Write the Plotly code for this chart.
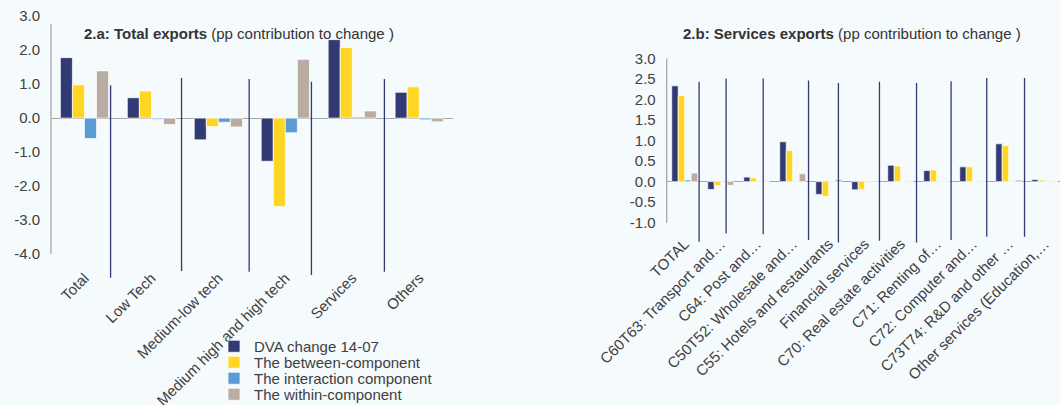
import plotly.graph_objects as go

# ---------------- data ----------------
series_names = ["DVA change 14-07", "The between-component",
                "The interaction component", "The within-component"]
series_colors = ["#323A73", "#FFD624", "#5B9BD5", "#B9ACA2"]

cat_a = ["Total", "Low Tech", "Medium-low tech", "Medium high and high tech",
         "Services", "Others"]
dva_a = [1.78, 0.60, -0.64, -1.27, 2.31, 0.76]
between_a = [0.98, 0.80, -0.25, -2.60, 2.08, 0.92]
interaction_a = [-0.60, -0.03, -0.12, -0.43, 0.03, -0.05]
within_a = [1.39, -0.19, -0.26, 1.73, 0.21, -0.11]

ytick_a_vals = [-4, -3, -2, -1, 0, 1, 2, 3]
ytick_a_text = ["-4.0", "-3.0", "-2.0", "-1.0", "0.0", "1.0", "2.0", "3.0"]

# vertical separator lines of panel a (category units / value units)
sep_a_x = [0.39, 1.45, 2.46, 3.39, 4.48]
sep_a_top = [0.97, 1.18, 1.15, 1.07, 1.15]
sep_a_bottom = [-4.70, -4.50, -4.52, -4.62, -4.52]

cat_b = ["TOTAL", "C60T63: Transport and…", "C64: Post and…",
         "C50T52: Wholesale and…", "C55: Hotels and restaurants",
         "Financial services", "C70: Real estate activities",
         "C71: Renting of…", "C72: Computer and…",
         "C73T74: R&D and other …", "Other services (Education,…"]
dva_b = [2.33, -0.19, 0.11, 0.97, -0.31, -0.20, 0.40, 0.27, 0.36, 0.92, 0.05]
between_b = [2.09, -0.10, 0.09, 0.76, -0.36, -0.19, 0.38, 0.28, 0.36, 0.88, 0.04]
interaction_b = [0.04, 0.00, 0.00, 0.00, 0.00, 0.01, 0.00, 0.00, 0.00, 0.00, 0.00]
within_b = [0.21, -0.09, 0.00, 0.19, 0.05, -0.01, 0.00, 0.00, 0.00, 0.04, 0.00]

ytick_b_vals = [-1, -0.5, 0, 0.5, 1, 1.5, 2, 2.5, 3]
ytick_b_text = ["-1.0", "-0.5", "0.0", "0.5", "1.0", "1.5", "2.0", "2.5", "3.0"]

sep_b_x = [0.40, 1.15, 2.18, 3.44, 4.27, 5.41, 6.44, 7.40, 8.39, 9.44]
sep_b_top = [2.43, 2.51, 2.51, 2.46, 2.40, 2.43, 2.40, 2.44, 2.52, 2.52]
sep_b_bottom = [-1.46, -1.26, -1.28, -1.42, -1.48, -1.44, -1.48, -1.42, -1.34, -1.34]

# ---------------- figure ----------------
W, H = 1060, 405
FONT = "Liberation Sans, Arial, sans-serif"
TXT = "#404040"
BG = "#F5FAFD"
AX = "#A6A6A6"

fig = go.Figure()

vals_a = [dva_a, between_a, interaction_a, within_a]
vals_b = [dva_b, between_b, interaction_b, within_b]
legend_ids = ["legend", "legend2", "legend3", "legend4"]

for i, name in enumerate(series_names):
    fig.add_trace(go.Bar(
        x=list(range(len(cat_a))), y=vals_a[i], name=name,
        marker=dict(color=series_colors[i], line=dict(color="#FFFFFF", width=0.7)),
        xaxis="x", yaxis="y", legend=legend_ids[i], offsetgroup=str(i),
        hoverinfo="skip"))
for i, name in enumerate(series_names):
    fig.add_trace(go.Bar(
        x=list(range(len(cat_b))), y=vals_b[i], name=name, showlegend=False,
        marker=dict(color=series_colors[i], line=dict(color="#FFFFFF", width=0.7)),
        xaxis="x2", yaxis="y2", offsetgroup=str(i), hoverinfo="skip"))


def sep_xy(xs, tops, bots):
    X, Y = [], []
    for x, t, b in zip(xs, tops, bots):
        X += [x, x, None]
        Y += [t, b, None]
    return X, Y


sx, sy = sep_xy(sep_a_x, sep_a_top, sep_a_bottom)
fig.add_trace(go.Scatter(x=sx, y=sy, mode="lines", showlegend=False,
                         line=dict(color="#323A73", width=1.3),
                         xaxis="x", yaxis="y", hoverinfo="skip"))
sx, sy = sep_xy(sep_b_x, sep_b_top, sep_b_bottom)
fig.add_trace(go.Scatter(x=sx, y=sy, mode="lines", showlegend=False,
                         line=dict(color="#323A73", width=1.3),
                         xaxis="x2", yaxis="y2", hoverinfo="skip"))


def py(p):
    return 1 - p / H


tickfont = dict(family=FONT, size=15, color=TXT)

layout = dict(
    width=W, height=H,
    margin=dict(l=0, r=0, t=0, b=0, autoexpand=False),
    paper_bgcolor=BG, plot_bgcolor=BG,
    font=dict(family=FONT, size=15, color=TXT),
    barmode="group", bargap=0.28, bargroupgap=0,
    xaxis=dict(domain=[51 / W, 452.7 / W], range=[-0.5, len(cat_a) - 0.5],
               tickvals=list(range(len(cat_a))), ticktext=cat_a, tickangle=-45,
               showgrid=False, zeroline=False, showline=False, ticks="",
               tickfont=tickfont, anchor="y", ticklabelstandoff=-14,
               automargin=False),
    yaxis=dict(domain=[py(279.5), py(16.2)], range=[-4.75, 3.0],
               tickvals=ytick_a_vals, ticktext=ytick_a_text,
               showgrid=False, zeroline=True, zerolinecolor=AX, zerolinewidth=1.3,
               showline=False, ticks="", tickfont=tickfont, anchor="x",
               ticklabelstandoff=10, automargin=False),
    xaxis2=dict(domain=[666.7 / W, 1.0], range=[-0.5, -0.5 + 393.3 / 36.0],
                tickvals=list(range(len(cat_b))), ticktext=cat_b, tickangle=-45,
                showgrid=False, zeroline=False, showline=False, ticks="",
                tickfont=tickfont, anchor="y2", ticklabelstandoff=-12,
                automargin=False),
    yaxis2=dict(domain=[py(243.3), py(58.3)], range=[-1.5, 3.0],
                tickvals=ytick_b_vals, ticktext=ytick_b_text,
                showgrid=False, zeroline=True, zerolinecolor=AX, zerolinewidth=1.3,
                showline=False, ticks="", tickfont=tickfont, anchor="x2",
                ticklabelstandoff=10, automargin=False),
    shapes=[
        dict(type="line", xref="x domain", yref="y", x0=0, x1=0, y0=-4.0, y1=2.78,
             line=dict(color=AX, width=1.3)),
        dict(type="line", xref="x2 domain", yref="y2", x0=0, x1=0, y0=-1.0, y1=3.0,
             line=dict(color=AX, width=1.3)),
    ],
    annotations=[
        dict(xref="paper", yref="paper", x=82 / W, y=py(34), xanchor="left",
             yanchor="middle", showarrow=False,
             text="<b>2.a: Total exports</b> (pp contribution to change )",
             font=dict(family=FONT, size=15, color="#333333")),
        dict(xref="paper", yref="paper", x=681 / W, y=py(34), xanchor="left",
             yanchor="middle", showarrow=False,
             text="<b>2.b: Services exports</b> (pp contribution to change )",
             font=dict(family=FONT, size=15, color="#333333")),
    ],
)

leg_centers = [346.5, 362.5, 378.5, 394.5]
for lid, c in zip(legend_ids, leg_centers):
    layout[lid] = dict(x=214 / W, y=py(c), xanchor="left", yanchor="middle",
                       bgcolor="rgba(0,0,0,0)", borderwidth=0,
                       font=dict(family=FONT, size=15, color=TXT),
                       tracegroupgap=0)

fig.update_layout(**layout)
fig.write_html("out.html",
               config={"displayModeBar": False},
               post_script="document.body.style.margin='0';"
                           "document.body.style.overflow='hidden';")
